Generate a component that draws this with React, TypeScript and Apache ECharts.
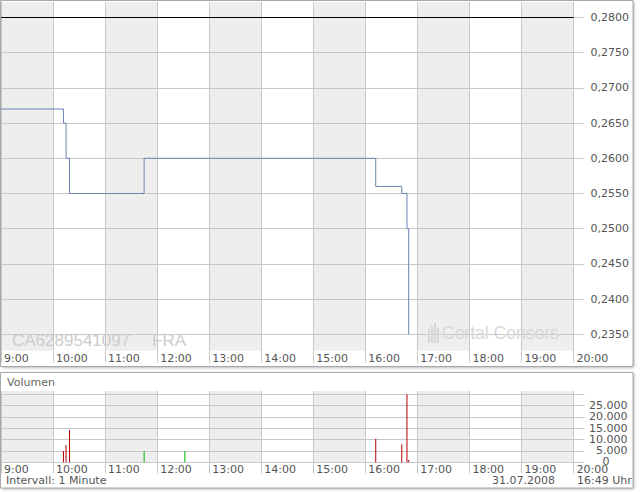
import React, { useEffect, useRef } from 'react';
import * as echarts from 'echarts';

// ---- data ----
const priceTimes = ['09:00', '10:12', '10:15', '10:19', '11:45', '16:12', '16:42', '16:48', '16:50'];
const priceValues = [0.267, 0.265, 0.26, 0.255, 0.26, 0.256, 0.255, 0.25, 0.235];
const prevClose = 0.28;
const priceTicks = [0.235, 0.24, 0.245, 0.25, 0.255, 0.26, 0.265, 0.27, 0.275, 0.28];

const volumeTimes = ['10:12', '10:15', '10:19', '11:45', '12:32', '16:12', '16:42', '16:48', '16:50'];
const volumeValues = [5000, 7600, 14300, 5000, 5000, 10400, 8000, 30000, 1000];
const volumeDirections = ['down', 'down', 'down', 'up', 'up', 'down', 'down', 'down', 'down'];
const volumeTickValues = [0, 5000, 10000, 15000, 20000, 25000, 30000];
const volumeLabelValues = [0, 5000, 10000, 15000, 20000, 25000];

const isin = 'CA6289541097';
const exchange = 'FRA';
const brand = 'Cortal Consors';
const panelTitle = 'Volumen';
const intervalText = 'Intervall: 1 Minute';
const dateText = '31.07.2008';
const timeText = '16:49 Uhr';

const toHours = (s: string) => {
  const [h, m] = s.split(':').map(Number);
  return h + m / 60;
};

const fmtPrice = (v: number) => v.toFixed(4).replace('.', ',');
const fmtVol = (v: number) => String(Math.round(v)).replace(/\B(?=(\d{3})+(?!\d))/g, '.');

const GRID = '#c8c8c8';
const FONT = 'DejaVu Sans';
const labelBase = { fontFamily: FONT, fontSize: 11, color: '#555' };

export default function App() {
  const ref = useRef<HTMLDivElement>(null);

  useEffect(() => {
    if (!ref.current) return;
    const chart = echarts.init(ref.current, null, { renderer: 'svg' });

    const xAxisFor = (i: number) => ({
      type: 'value',
      gridIndex: i,
      min: 9,
      max: 20,
      interval: 1,
      axisLine: { show: false },
      axisTick: { show: true, length: i === 0 ? 12 : 11, lineStyle: { color: GRID } },
      axisLabel: {
        ...labelBase,
        formatter: (v: number) => `${v}:00`,
        align: 'left',
        padding: [0, 0, 0, 3],
        margin: 2,
        showMinLabel: true,
        showMaxLabel: true,
        hideOverlap: false,
      },
      splitLine: { show: true, lineStyle: { color: GRID, width: 1 } },
      splitArea: { show: true, areaStyle: { color: ['#eeeeee', '#ffffff'] } },
      z: 0,
    });

    const panelShadow = {
      shadowBlur: 3,
      shadowColor: 'rgba(0,0,0,0.35)',
      shadowOffsetX: 1,
      shadowOffsetY: 1,
    };

    const option: any = {
      animation: false,
      backgroundColor: '#ffffff',
      textStyle: { fontFamily: FONT },
      grid: [
        { left: 1, right: 66.5, top: 2, height: 348.7 },
        { left: 1, right: 66.5, top: 391, height: 71.3 },
      ],
      xAxis: [xAxisFor(0), xAxisFor(1)],
      yAxis: [
        {
          type: 'value',
          gridIndex: 0,
          position: 'right',
          min: 0.23267,
          max: 0.2822,
          splitNumber: 10,
          axisLine: { show: false },
          axisTick: { show: true, length: 10, lineStyle: { color: GRID }, customValues: priceTicks },
          axisLabel: { ...labelBase, margin: 17, customValues: priceTicks, formatter: (v: number) => fmtPrice(v) },
          splitLine: { show: true, lineStyle: { color: GRID } },
          z: 1,
        },
        {
          type: 'value',
          gridIndex: 1,
          position: 'right',
          min: 0,
          max: 31450,
          axisLine: { show: false },
          axisTick: { show: true, length: 11, lineStyle: { color: GRID }, customValues: volumeTickValues },
          axisLabel: {
            ...labelBase,
            align: 'right',
            margin: 54,
            showMinLabel: true,
            showMaxLabel: true,
            hideOverlap: false,
            customValues: volumeLabelValues,
            formatter: (v: number) => (v === 0 ? '{z|0}' : fmtVol(v)),
            rich: { z: { ...labelBase, padding: [0, 18, 1, 0] } },
          },
          splitLine: { show: true, lineStyle: { color: GRID } },
          z: 1,
        },
      ],
      series: [
        {
          type: 'line',
          xAxisIndex: 0,
          yAxisIndex: 0,
          step: 'end',
          symbol: 'none',
          data: priceTimes.map((t, i) => [toHours(t), priceValues[i]]),
          lineStyle: { color: '#6b83b2', width: 1 },
          z: 5,
          markLine: {
            silent: true,
            symbol: ['none', 'none'],
            label: { show: false },
            lineStyle: { color: '#000000', type: 'solid', width: 1 },
            data: [{ yAxis: prevClose }],
          },
        },
        {
          type: 'bar',
          xAxisIndex: 1,
          yAxisIndex: 1,
          barWidth: 1,
          data: volumeTimes.map((t, i) => ({
            value: [toHours(t), volumeValues[i]],
            itemStyle: { color: volumeDirections[i] === 'up' ? '#00b400' : '#bb0000' },
          })),
          z: 5,
        },
      ],
      graphic: [
        // panel backgrounds with soft shadow
        { type: 'rect', z: -10, shape: { x: 0.5, y: 0.5, width: 632.5, height: 366 }, style: { fill: '#ffffff', ...panelShadow } },
        { type: 'rect', z: -10, shape: { x: 0.5, y: 372.5, width: 632.5, height: 115.5 }, style: { fill: '#ffffff', ...panelShadow } },
        // watermarks
        { type: 'text', z: 3, left: 12, top: 332, style: { text: isin, fill: '#cccccc', font: '17px "Liberation Sans", Arial, sans-serif' } },
        { type: 'text', z: 3, left: 152, top: 332, style: { text: exchange, fill: '#cccccc', font: '17px "Liberation Sans", Arial, sans-serif' } },
        { type: 'text', z: 3, left: 442, top: 324, style: { text: brand, fill: '#d8d8d8', font: '17.5px "Liberation Sans", Arial, sans-serif' } },
        {
          type: 'group', z: 3, left: 428, top: 323,
          children: [
            { type: 'rect', z: 3, shape: { x: 0, y: 6, width: 2, height: 14 }, style: { fill: '#d6d6d6' } },
            { type: 'rect', z: 3, shape: { x: 3, y: 3, width: 2, height: 17 }, style: { fill: '#d6d6d6' } },
            { type: 'rect', z: 3, shape: { x: 6, y: 0, width: 2, height: 20 }, style: { fill: '#d6d6d6' } },
            { type: 'rect', z: 3, shape: { x: 9, y: 5, width: 2, height: 15 }, style: { fill: '#d6d6d6' } },
          ],
        },
        // volume panel texts
        { type: 'text', z: 10, left: 7, top: 377, style: { text: panelTitle, fill: '#666666', font: `11px "${FONT}"` } },
        { type: 'text', z: 10, left: 6, top: 475, style: { text: intervalText, fill: '#555555', font: `11px "${FONT}"` } },
        { type: 'text', z: 10, x: 555, y: 475, style: { text: dateText, fill: '#555555', font: `11px "${FONT}"`, align: 'right', verticalAlign: 'top' } },
        { type: 'text', z: 10, left: 577, top: 475, style: { text: timeText, fill: '#555555', font: `11px "${FONT}"` } },
        // panel borders
        { type: 'rect', z: 20, shape: { x: 0.5, y: 0.5, width: 632.5, height: 366 }, style: { fill: 'none', stroke: '#a8a8a8', lineWidth: 1 } },
        { type: 'rect', z: 20, shape: { x: 0.5, y: 372.5, width: 632.5, height: 115.5 }, style: { fill: 'none', stroke: '#a8a8a8', lineWidth: 1 } },
      ],
    };

    chart.setOption(option);
    return () => chart.dispose();
  }, []);

  return (
    <div style={{ position: 'fixed', left: 0, top: 0, width: 640, height: 492, background: '#fff' }}>
      <div ref={ref} style={{ width: 640, height: 492 }} />
    </div>
  );
}
